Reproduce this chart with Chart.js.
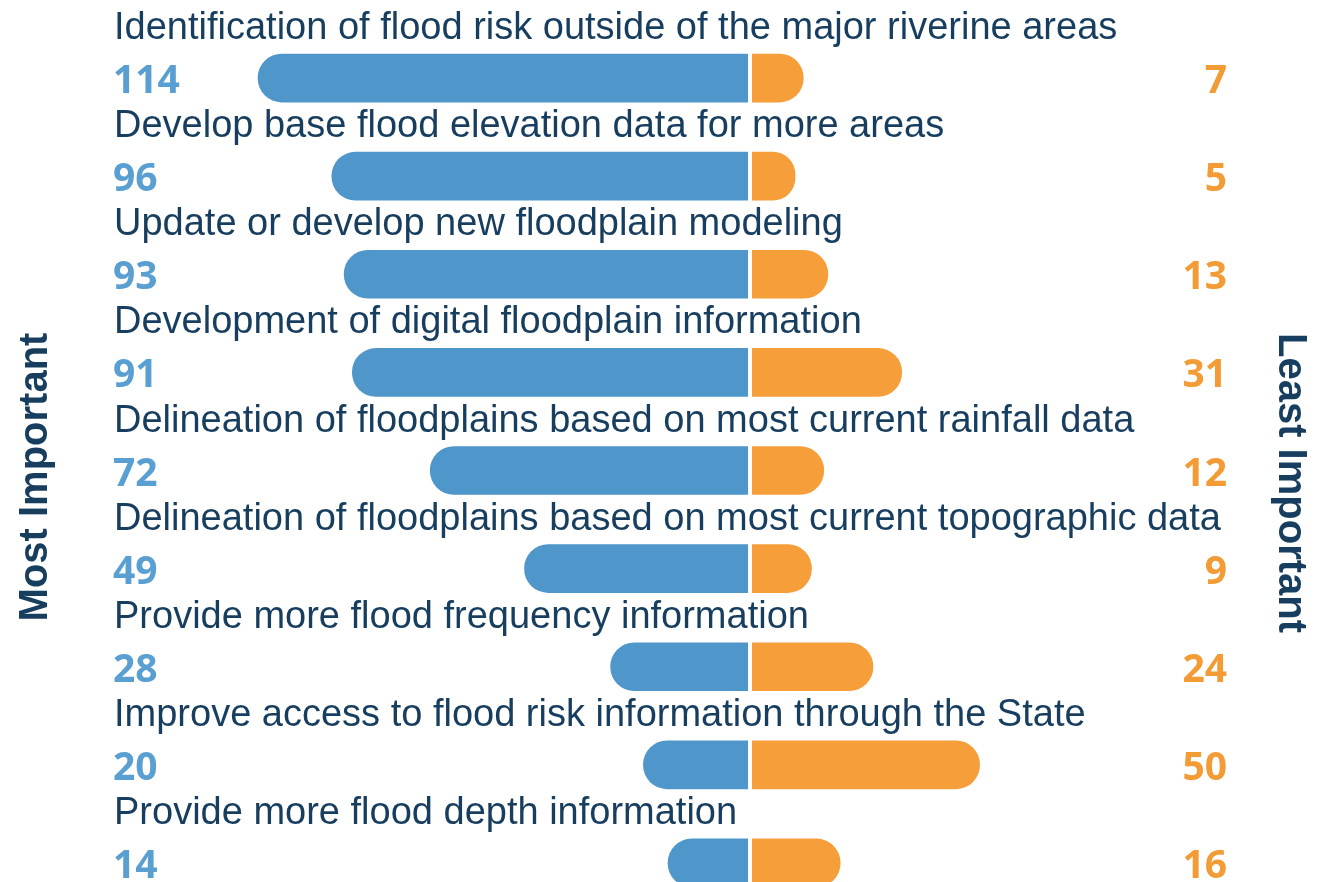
<!DOCTYPE html>
<html>
<head>
<meta charset="utf-8">
<title>Floodplain information priorities</title>
<script src="https://cdn.jsdelivr.net/npm/chart.js@4.4.1/dist/chart.umd.min.js"></script>
<style>
  html, body { margin: 0; padding: 0; background: #fff; overflow: hidden; }
  #wrap { width: 1334px; height: 882px; overflow: hidden; }
</style>
</head>
<body>
<div id="wrap"><canvas id="chart" width="1334" height="940"></canvas></div>
<script>
// survey answers, one row per topic (top to bottom)
const categories = [
  'Identification of flood risk outside of the major riverine areas',
  'Develop base flood elevation data for more areas',
  'Update or develop new floodplain modeling',
  'Development of digital floodplain information',
  'Delineation of floodplains based on most current rainfall data',
  'Delineation of floodplains based on most current topographic data',
  'Provide more flood frequency information',
  'Improve access to flood risk information through the State',
  'Provide more flood depth information'
]
const mostImportant = [114, 96, 93, 91, 72, 49, 28, 20, 14]
const leastImportant = [7, 5, 13, 31, 12, 9, 24, 50, 16]
const sideTitles = ['Most Important', 'Least Important']

const BLUE = '#4f97cb'
const ORANGE = '#f59e3a'
const NAVY = '#173d5f'
const BLUE_TEXT = '#5a9fd2'
const ORANGE_TEXT = '#f39b34'

// the pill ends stick out past the value by roughly half a bar
const ROUND_END = 6

const rowLabels = {
  id: 'rowLabels',
  afterDatasetsDraw (chart) {
    const ctx = chart.ctx
    const area = chart.chartArea
    const xs = chart.scales.x
    const ys = chart.scales.y
    const zero = xs.getPixelForValue(0)
    ctx.save()

    // thin white split between the blue and orange halves
    ctx.fillStyle = '#fff'
    ctx.fillRect(zero - 2, area.top, 4, area.bottom - area.top)

    categories.forEach((name, i) => {
      const y = ys.getPixelForValue(i)
      ctx.textBaseline = 'alphabetic'

      ctx.font = '38px "Liberation Sans", Arial, sans-serif'
      ctx.fillStyle = NAVY
      ctx.textAlign = 'left'
      ctx.fillText(name, area.left + 20, y - 39)

      ctx.font = 'bold 39px "Open Sans", sans-serif'
      ctx.fillStyle = BLUE_TEXT
      ctx.fillText(String(mostImportant[i]), area.left + 19, y + 15)

      ctx.textAlign = 'right'
      ctx.fillStyle = ORANGE_TEXT
      ctx.fillText(String(leastImportant[i]), area.right - 15, y + 15)
    })

    // rotated side titles
    ctx.font = 'bold 40px "Liberation Sans", Arial, sans-serif'
    ctx.fillStyle = NAVY
    ctx.textAlign = 'center'
    ctx.textBaseline = 'middle'

    ctx.save()
    ctx.translate(36, 477)
    ctx.rotate(-Math.PI / 2)
    ctx.fillText(sideTitles[0], 0, 0)
    ctx.restore()

    ctx.save()
    ctx.translate(1290, 483)
    ctx.rotate(Math.PI / 2)
    ctx.fillText(sideTitles[1], 0, 0)
    ctx.restore()

    ctx.restore()
  }
}

new Chart(document.getElementById('chart'), {
  type: 'bar',
  data: {
    labels: categories,
    datasets: [
      {
        label: sideTitles[0],
        data: mostImportant.map(v => -(v + ROUND_END)),
        backgroundColor: BLUE,
        borderRadius: 24,
        borderSkipped: 'start',
        barThickness: 48
      },
      {
        label: sideTitles[1],
        data: leastImportant.map(v => v + ROUND_END),
        backgroundColor: ORANGE,
        borderRadius: 24,
        borderSkipped: 'start',
        barThickness: 48
      }
    ]
  },
  options: {
    indexAxis: 'y',
    responsive: false,
    animation: false,
    layout: {
      padding: { left: 94, right: 92, top: 29, bottom: 28 }
    },
    plugins: {
      legend: { display: false },
      tooltip: { enabled: false }
    },
    scales: {
      x: { display: false, stacked: true, min: -160, max: 120 },
      y: { display: false, stacked: true }
    }
  },
  plugins: [rowLabels]
})
</script>
</body>
</html>
